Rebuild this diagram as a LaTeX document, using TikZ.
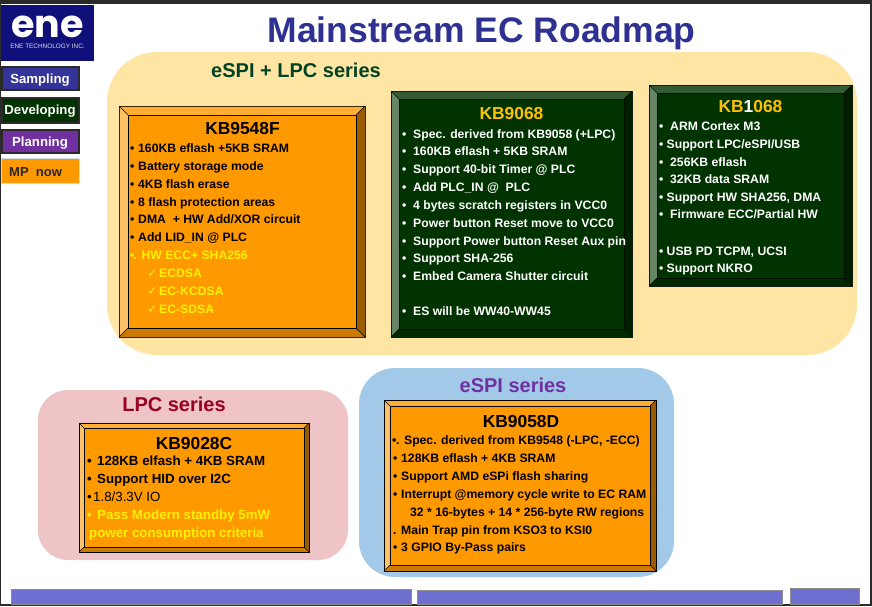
\documentclass[tikz,border=0pt]{standalone}
\usepackage{fontspec}
\setmainfont{Liberation Sans}
\newfontfamily\symfont{DejaVu Sans}
\newfontfamily\logofont{Poppins}
\definecolor{frame}{HTML}{2B2B2B}
\definecolor{logoblue}{HTML}{10107A}
\definecolor{titleblue}{HTML}{2E3192}
\definecolor{sampleblue}{HTML}{333399}
\definecolor{devgreen}{HTML}{003300}
\definecolor{planpurple}{HTML}{7030A0}
\definecolor{mporange}{HTML}{FF9900}
\definecolor{panelyellow}{HTML}{FFE5A3}
\definecolor{panelpink}{HTML}{EFC4C6}
\definecolor{panelblue}{HTML}{A2C9E8}
\definecolor{barblue}{HTML}{6F6FCF}
\definecolor{lblred}{HTML}{99001F}
\definecolor{lblgreen}{HTML}{004225}
\definecolor{gold}{HTML}{FFC000}
\definecolor{otop}{HTML}{FFAD33}
\definecolor{oleft}{HTML}{FFC166}
\definecolor{oright}{HTML}{995C00}
\definecolor{obottom}{HTML}{CC7A00}
\definecolor{gtop}{HTML}{335C33}
\definecolor{gleft}{HTML}{668566}
\definecolor{gright}{HTML}{001F00}
\definecolor{gbottom}{HTML}{002900}
% #1 x0, #2 y0, #3 x1, #4 y1, #5 bevel, #6 face, #7 colour prefix, #8 outer line, #9 inner line
\newcommand{\bevelbox}[9]{
  \fill[#6] (#1,#2) rectangle (#3,#4);
  \fill[#7top] (#1,#2) -- (#3,#2) -- (#3-#5,#2+#5) -- (#1+#5,#2+#5) -- cycle;
  \fill[#7left] (#1,#2) -- (#1+#5,#2+#5) -- (#1+#5,#4-#5) -- (#1,#4) -- cycle;
  \fill[#7right] (#3,#2) -- (#3-#5,#2+#5) -- (#3-#5,#4-#5) -- (#3,#4) -- cycle;
  \fill[#7bottom] (#1,#4) -- (#1+#5,#4-#5) -- (#3-#5,#4-#5) -- (#3,#4) -- cycle;
  \draw[#8,line width=0.7pt] (#1,#2) rectangle (#3,#4);
  \draw[#9,line width=0.7pt] (#1+#5,#2+#5) rectangle (#3-#5,#4-#5);
  \draw[#9,line width=0.5pt] (#1,#2) -- (#1+#5,#2+#5) (#3,#2) -- (#3-#5,#2+#5)
    (#1,#4) -- (#1+#5,#4-#5) (#3,#4) -- (#3-#5,#4-#5);
}
\newcommand{\blt}[1]{\makebox[#1][l]{•}}
\newcommand{\chk}{\makebox[12pt][l]{\symfont\fontsize{12.5}{14}\selectfont\mdseries ✓}}
\begin{document}
\begin{tikzpicture}[x=1pt,y=-1pt,
    listline/.style={anchor=base west,inner sep=0pt,font=\bfseries\fontsize{12.2}{14}\selectfont},
    bigline/.style={listline,font=\bfseries\fontsize{13.3}{15}\selectfont},
    boxtitle/.style={inner sep=0pt,font=\bfseries\fontsize{17.4}{19}\selectfont},
    series/.style={inner sep=0pt,font=\bfseries\fontsize{20}{22}\selectfont},
    legend/.style={inner sep=0pt,font=\bfseries\fontsize{13.2}{15}\selectfont},
    legendbox/.style={draw=frame,line width=1.2pt}]
  \useasboundingbox (0,0) rectangle (872,606);
  \fill[white] (0,0) rectangle (872,606);
  % window edges
  \fill[frame] (0,0) rectangle (872,4);
  \fill[frame] (0,0) rectangle (1,606);
  \fill[frame] (870,0) rectangle (872,606);
  \fill[frame] (0,604) rectangle (872,606);
  % logo
  \fill[logoblue] (1,5) rectangle (94,61);
  \node[white,inner sep=0pt,font=\logofont\bfseries\fontsize{38}{39}\selectfont] (logo) at (47.5,27) {ene};
  \node[white!85!logoblue,inner sep=0pt,font=\fontsize{6.4}{8}\selectfont] (logotxt) at (47.5,46) {ENE TECHNOLOGY INC.};
  % title
  \node[titleblue,inner sep=0pt,font=\bfseries\fontsize{35.5}{38}\selectfont] (title) at (481.5,33) {Mainstream EC Roadmap};
  % legend
  \filldraw[legendbox,fill=sampleblue] (2,67) rectangle (79,90);
  \node[legend,white] (sampling) at (40,80) {Sampling};
  \filldraw[legendbox,fill=devgreen] (2,98) rectangle (79,123);
  \node[legend,white] (developing) at (40,111) {Developing};
  \filldraw[legendbox,fill=planpurple] (2,130) rectangle (79,153);
  \node[legend,white] (planning) at (40,143) {Planning};
  \filldraw[fill=mporange,draw=panelblue!60] (1.5,158.5) rectangle (79,183);
  \node[listline,font=\bfseries\fontsize{13}{15}\selectfont,text=black!85] (mpnow) at (9,176) {MP\ \ now};
  % series panels
  \fill[panelyellow,rounded corners=50pt] (107,52) rectangle (857,355);
  \fill[panelpink,rounded corners=30pt] (38,390) rectangle (348,560);
  \fill[panelblue,rounded corners=36pt] (359,368) rectangle (674,577);
  \node[series,lblgreen] (combo) at (296,70) {eSPI + LPC series};
  \node[series,lblred] (lpc) at (174,404) {LPC series};
  \node[series,planpurple] (espi) at (513,385) {eSPI series};
  % KB9548F
  \bevelbox{119}{106}{365}{337}{9}{mporange}{o}{black!60!oright}{black}
  \node[boxtitle] (kbf) at (242.5,129) {KB9548F};
  \foreach \x/\y/\t [count=\i] in {130/152/{\blt{8pt}160KB eflash +5KB SRAM},
      130/170/{\blt{8pt}Battery storage mode},130/188/{\blt{8pt}4KB flash erase},
      130/206/{\blt{8pt}8 flash protection areas},130/223/{\blt{8pt}DMA\ \ + HW Add/XOR circuit},
      130/241/{\blt{8pt}Add LID\_IN @ PLC}}
    \node[listline] (fa\i) at (\x,\y) {\t};
  \foreach \x/\y/\t [count=\i] in {130/259/{\blt{3.5pt}. HW ECC+ SHA256},147/277/{\chk ECDSA},
      147/295/{\chk EC-KCDSA},147/313/{\chk EC-SDSA}}
    \node[listline,text=yellow] (fb\i) at (\x,\y) {\t};
  % KB9068
  \bevelbox{391}{91}{632}{337}{8}{devgreen}{g}{black!70!gtop}{black!70!devgreen}
  \node[boxtitle,gold] (kbs) at (511.5,114) {KB9068};
  \foreach \y/\t [count=\i] in {138/{Spec. derived from KB9058 (+LPC)},155/{160KB eflash + 5KB SRAM},
      173/{Support 40-bit Timer @ PLC},191/{Add PLC\_IN @\ \ PLC},209/{4 bytes scratch registers in VCC0},
      227/{Power button Reset move to VCC0},245/{Support Power button Reset Aux pin},
      262/{Support SHA-256},280/{Embed Camera Shutter circuit},315/{ES will be WW40-WW45}}
    \node[listline,text=white] (sa\i) at (402,\y) {\blt{11pt}\t};
  % KB1068
  \bevelbox{649}{85}{852}{286}{8}{devgreen}{g}{black!70!gtop}{black!70!devgreen}
  \node[boxtitle,gold] (kbo) at (750.5,107) {KB\textcolor{white}{1}068};
  \foreach \y/\g/\t [count=\i] in {130/11pt/{ARM Cortex M3},148/7.5pt/{Support LPC/eSPI/USB},
      166/11pt/{256KB eflash},183/11pt/{32KB data SRAM},201/7.5pt/{Support HW SHA256, DMA},
      218/11pt/{Firmware ECC/Partial HW},255/7.5pt/{USB PD TCPM, UCSI},272/7.5pt/{Support NKRO}}
    \node[listline,text=white] (oa\i) at (659,\y) {\blt{\g}\t};
  % KB9028C
  \bevelbox{79}{423}{309}{552}{5}{mporange}{o}{black}{black}
  \node[boxtitle] (kbc) at (194,443) {KB9028C};
  \node[bigline] (ca1) at (87,465) {\blt{10pt}128KB elfash + 4KB SRAM};
  \node[bigline] (ca2) at (87,483) {\blt{10pt}Support HID over I2C};
  \node[bigline,font=\fontsize{13.3}{15}\selectfont] (ca3) at (87,501) {\blt{6pt}1.8/3.3V IO};
  \node[bigline,text=yellow] (ca4) at (87,519) {\blt{10pt}Pass Modern standby 5mW};
  \node[bigline,text=yellow] (ca5) at (89,537) {power consumption criteria};
  % KB9058D
  \bevelbox{384}{400}{656}{571}{6}{mporange}{o}{black}{black}
  \node[boxtitle] (kbd) at (521,421) {KB9058D};
  \foreach \x/\y/\t [count=\i] in {392/444/{\blt{4pt}. Spec. derived from KB9548 (-LPC, -ECC)},
      393/462/{\blt{8pt}128KB eflash + 4KB SRAM},393/480/{\blt{8pt}Support AMD eSPi flash sharing},
      393/498/{\blt{8pt}Interrupt @memory cycle write to EC RAM},410/516/{32 * 16-bytes + 14 * 256-byte RW regions},
      393/534/{. Main Trap pin from KSO3 to KSI0},393/551/{\blt{8pt}3 GPIO By-Pass pairs}}
    \node[listline] (da\i) at (\x,\y) {\t};
  % bottom bars
  \filldraw[fill=barblue,draw=black!45] (11,589) rectangle (411,604);
  \filldraw[fill=barblue,draw=black!45] (417,590) rectangle (782,604);
  \filldraw[fill=barblue,draw=black!45] (790,588) rectangle (859,604);
\end{tikzpicture}
\end{document}
